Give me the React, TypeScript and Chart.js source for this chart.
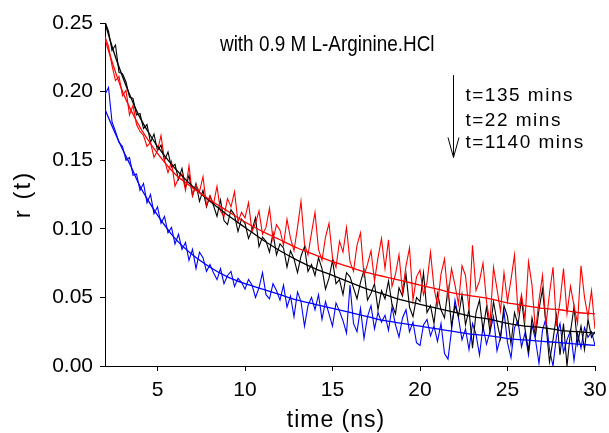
import React, { useEffect, useRef } from "react";
import { Chart, registerables } from "chart.js";

Chart.register(...registerables);

// sampling of the measured decays (ns)
const timeStart = 2;
const timeStep = 0.2;

// measured anisotropy r(t), one value per time channel
const blackData = [
  0.251, 0.244, 0.230, 0.234, 0.214, 0.213, 0.207, 0.196, 0.195, 0.183,
  0.184, 0.173, 0.176, 0.163, 0.169, 0.157, 0.161, 0.150, 0.156, 0.145,
  0.147, 0.136, 0.144, 0.130, 0.139, 0.124, 0.133, 0.120, 0.128, 0.116,
  0.124, 0.117, 0.109, 0.121, 0.106, 0.103, 0.114, 0.110, 0.098, 0.107,
  0.104, 0.093, 0.099, 0.108, 0.087, 0.094, 0.091, 0.083, 0.097, 0.081,
  0.089, 0.086, 0.072, 0.084, 0.078, 0.068, 0.080, 0.087, 0.069, 0.074,
  0.066, 0.079, 0.071, 0.056, 0.064, 0.077, 0.060, 0.063, 0.052, 0.068,
  0.065, 0.057, 0.049, 0.061, 0.070, 0.048, 0.053, 0.060, 0.041, 0.055,
  0.049, 0.062, 0.045, 0.038, 0.057, 0.051, 0.067, 0.043, 0.036, 0.050,
  0.047, 0.068, 0.039, 0.044, 0.031, 0.053, 0.041, 0.035, 0.057, 0.029,
  0.044, 0.036, 0.052, 0.030, 0.041, 0.013, 0.039, 0.048, 0.026, 0.043,
  0.025, 0.047, 0.032, 0.020, 0.044, 0.036, 0.016, 0.039, 0.030, 0.049,
  0.027, 0.011, 0.035, 0.022, 0.041, 0.056, 0.030, 0.003, 0.019, 0.037,
  0.008, 0.031, 0.000, 0.025, 0.043, 0.016, 0.029, 0.012, 0.034, 0.021,
  0.025,
];

const redData = [
  0.240, 0.233, 0.219, 0.208, 0.211, 0.197, 0.201, 0.183, 0.190, 0.176,
  0.171, 0.168, 0.160, 0.163, 0.152, 0.157, 0.168, 0.150, 0.141, 0.149,
  0.131, 0.137, 0.140, 0.128, 0.146, 0.124, 0.132, 0.127, 0.138, 0.117,
  0.124, 0.118, 0.131, 0.113, 0.109, 0.122, 0.116, 0.127, 0.105, 0.112,
  0.108, 0.119, 0.098, 0.104, 0.113, 0.096, 0.101, 0.115, 0.092, 0.103,
  0.099, 0.088, 0.107, 0.093, 0.084, 0.101, 0.120, 0.089, 0.081, 0.097,
  0.112, 0.085, 0.077, 0.094, 0.104, 0.079, 0.072, 0.091, 0.083, 0.101,
  0.076, 0.069, 0.088, 0.097, 0.066, 0.074, 0.084, 0.062, 0.079, 0.093,
  0.071, 0.092, 0.058, 0.067, 0.081, 0.054, 0.073, 0.086, 0.048, 0.065,
  0.070, 0.052, 0.061, 0.083, 0.057, 0.044, 0.067, 0.078, 0.050, 0.071,
  0.059, 0.045, 0.073, 0.066, 0.041, 0.088, 0.055, 0.062, 0.075, 0.047,
  0.031, 0.072, 0.056, 0.040, 0.068, 0.047, 0.063, 0.081, 0.039, 0.052,
  0.034, 0.076, 0.059, 0.025, 0.048, 0.066, 0.030, 0.053, 0.072, 0.029,
  0.047, 0.071, 0.038, 0.058, 0.044, 0.031, 0.073, 0.050, 0.036, 0.055,
  0.027,
];

const blueData = [
  0.198, 0.203, 0.178, 0.171, 0.163, 0.160, 0.150, 0.152, 0.139, 0.140,
  0.128, 0.133, 0.119, 0.125, 0.111, 0.116, 0.104, 0.109, 0.097, 0.101,
  0.089, 0.096, 0.085, 0.090, 0.077, 0.085, 0.071, 0.083, 0.079, 0.069,
  0.074, 0.068, 0.063, 0.071, 0.060, 0.066, 0.069, 0.058, 0.064, 0.061,
  0.056, 0.063, 0.059, 0.050, 0.057, 0.068, 0.052, 0.049, 0.060, 0.055,
  0.048, 0.059, 0.043, 0.051, 0.036, 0.054, 0.047, 0.029, 0.044, 0.050,
  0.041, 0.052, 0.034, 0.047, 0.038, 0.029, 0.046, 0.040, 0.033, 0.024,
  0.059, 0.031, 0.025, 0.042, 0.020, 0.036, 0.044, 0.027, 0.039, 0.032,
  0.037, 0.026, 0.043, 0.030, 0.021, 0.035, 0.041, 0.025, 0.032, 0.017,
  0.015, 0.030, 0.034, 0.022, 0.029, 0.018, 0.031, 0.009, 0.005, 0.026,
  0.048, 0.035, 0.019, 0.027, 0.012, 0.031, 0.023, 0.008, 0.029, 0.016,
  0.025, 0.036, 0.011, 0.021, 0.040, 0.017, 0.006, 0.028, 0.033, 0.014,
  0.024, 0.008, 0.030, 0.019, 0.002, 0.026, 0.035, 0.012, 0.000, 0.022,
  0.031, 0.010, 0.019, 0.026, 0.004, 0.024, 0.013, 0.028, 0.021, 0.025,
  0.015,
];

// fitted curves
const fitTimes = [2, 2.5, 3, 3.5, 4, 4.5, 5, 6, 7, 8, 9, 10, 11, 12, 13, 14, 15, 16, 17, 18, 19, 20, 21, 22, 23, 24, 25, 26, 27, 28, 29, 30];
const blackFit = [0.250, 0.229, 0.211, 0.195, 0.181, 0.170, 0.160, 0.144, 0.131, 0.120, 0.110, 0.101, 0.092, 0.084, 0.077, 0.071, 0.066, 0.061, 0.056, 0.052, 0.048, 0.045, 0.042, 0.039, 0.036, 0.034, 0.031, 0.029, 0.028, 0.026, 0.025, 0.024];
const redFit = [0.238, 0.218, 0.200, 0.186, 0.174, 0.164, 0.155, 0.140, 0.130, 0.121, 0.113, 0.105, 0.098, 0.092, 0.086, 0.081, 0.076, 0.072, 0.068, 0.065, 0.062, 0.059, 0.056, 0.053, 0.051, 0.049, 0.046, 0.044, 0.042, 0.041, 0.039, 0.038];
const blueFit = [0.187, 0.172, 0.158, 0.145, 0.131, 0.120, 0.110, 0.093, 0.081, 0.072, 0.065, 0.060, 0.056, 0.052, 0.048, 0.045, 0.042, 0.039, 0.036, 0.033, 0.031, 0.029, 0.027, 0.025, 0.023, 0.022, 0.020, 0.019, 0.018, 0.017, 0.016, 0.015];

const xTicks = [5, 10, 15, 20, 25, 30];
const yTicks = [0, 0.05, 0.1, 0.15, 0.2, 0.25];

const headline = "with 0.9 M L-Arginine.HCl";
const seriesLabels = ["t=135 mins", "t=22 mins", "t=1140 mins"];
const xTitle = "time (ns)";
const yTitle = "r (t)";

const FONT = '"Liberation Sans", Arial, Helvetica, sans-serif';

// annotation placement in data units
const headlinePos = { x: 14.7, y: 0.234 };
const labelX = 22.6;
const labelYs = [0.197, 0.179, 0.1625];
const arrowPos = { x: 21.9, top: 0.212, bottom: 0.152 };
const xTitleCenter = 15.2;

const toPoints = (values: number[]) =>
  values.map((y, i) => ({ x: Math.round((timeStart + i * timeStep) * 100) / 100, y }));
const toFitPoints = (values: number[]) => values.map((y, i) => ({ x: fitTimes[i], y }));

const annotationPlugin = {
  id: "annotations",
  afterDraw(chart: any) {
    const { ctx, chartArea } = chart;
    const x = chart.scales.x;
    const y = chart.scales.y;
    ctx.save();
    ctx.fillStyle = "#000";
    ctx.strokeStyle = "#000";
    ctx.textBaseline = "middle";

    // headline (slightly condensed like the original)
    ctx.save();
    ctx.font = `22px ${FONT}`;
    ctx.textAlign = "center";
    const hx = x.getPixelForValue(headlinePos.x);
    const hy = y.getPixelForValue(headlinePos.y);
    ctx.translate(hx, hy);
    ctx.scale(0.86, 1);
    ctx.fillText(headline, 0, 0);
    ctx.restore();

    ctx.save();
    ctx.font = `19px ${FONT}`;
    ctx.textAlign = "left";
    (ctx as any).letterSpacing = "1.5px";
    seriesLabels.forEach((t, i) => {
      ctx.fillText(t, x.getPixelForValue(labelX), y.getPixelForValue(labelYs[i]));
    });
    ctx.restore();

    const ax = Math.round(x.getPixelForValue(arrowPos.x)) + 0.5;
    const top = y.getPixelForValue(arrowPos.top);
    const bot = y.getPixelForValue(arrowPos.bottom);
    ctx.lineWidth = 1;
    ctx.beginPath();
    ctx.moveTo(ax, top);
    ctx.lineTo(ax, bot);
    ctx.moveTo(ax - 5.5, bot - 20);
    ctx.lineTo(ax, bot);
    ctx.lineTo(ax + 5.5, bot - 20);
    ctx.stroke();

    ctx.save();
    ctx.font = `23px ${FONT}`;
    ctx.textAlign = "center";
    ctx.textBaseline = "alphabetic";
    (ctx as any).letterSpacing = "1px";
    ctx.fillText(xTitle, x.getPixelForValue(xTitleCenter), chart.height - 6);
    ctx.restore();

    ctx.save();
    ctx.font = `24px ${FONT}`;
    ctx.textAlign = "center";
    ctx.textBaseline = "alphabetic";
    (ctx as any).letterSpacing = "2px";
    ctx.translate(30, (chartArea.top + chartArea.bottom) / 2);
    ctx.rotate(-Math.PI / 2);
    ctx.fillText(yTitle, 0, 0);
    ctx.restore();

    ctx.restore();
  },
};

export default function App() {
  const canvasRef = useRef<HTMLCanvasElement | null>(null);

  useEffect(() => {
    document.body.style.margin = "0";
    const canvas = canvasRef.current;
    if (!canvas) return;
    Chart.defaults.font.family = FONT;

    const dataLine = (label: string, color: string, values: number[]) => ({
      label,
      data: toPoints(values),
      borderColor: color,
      borderWidth: 1.1,
      pointRadius: 0,
      tension: 0,
      fill: false,
    });
    const fitLine = (label: string, color: string, values: number[]) => ({
      label,
      data: toFitPoints(values),
      borderColor: color,
      borderWidth: 1.3,
      pointRadius: 0,
      cubicInterpolationMode: "monotone" as const,
      fill: false,
    });

    const chart = new Chart(canvas, {
      type: "line",
      data: {
        datasets: [
          fitLine("fit 1140", "#0000ff", blueFit),
          fitLine("fit 22", "#ff0000", redFit),
          fitLine("fit 135", "#000000", blackFit),
          dataLine("t=22 mins", "#ff0000", redData),
          dataLine("t=135 mins", "#000000", blackData),
          dataLine("t=1140 mins", "#0000ff", blueData),
        ],
      },
      options: {
        animation: false,
        responsive: true,
        maintainAspectRatio: false,
        layout: { padding: { left: 0, right: 14, top: 23, bottom: 0 } },
        plugins: { legend: { display: false }, tooltip: { enabled: false } },
        scales: {
          x: {
            type: "linear",
            min: 2,
            max: 30,
            afterBuildTicks: (s: any) => {
              s.ticks = xTicks.map((v) => ({ value: v }));
            },
            afterFit: (s: any) => {
              s.height = 67;
              s.paddingLeft = 0;
              s.paddingRight = 0;
            },
            ticks: {
              color: "#000",
              font: { size: 21, family: FONT },
              padding: 7,
              maxRotation: 0,
              autoSkip: false,
            },
            grid: { display: true, drawOnChartArea: false, drawTicks: true, tickLength: 5, color: "#000" },
            border: { display: true, color: "#000", width: 1 },
          },
          y: {
            type: "linear",
            min: 0,
            max: 0.25,
            afterBuildTicks: (s: any) => {
              s.ticks = yTicks.map((v) => ({ value: v }));
            },
            afterFit: (s: any) => {
              s.width = 105;
              s.paddingTop = 0;
              s.paddingBottom = 0;
            },
            ticks: {
              color: "#000",
              font: { size: 21, family: FONT },
              padding: 7,
              callback: (v: any) => Number(v).toFixed(2),
            },
            grid: { display: true, drawOnChartArea: false, drawTicks: true, tickLength: 5, color: "#000" },
            border: { display: true, color: "#000", width: 1 },
          },
        },
      },
      plugins: [annotationPlugin],
    });
    return () => chart.destroy();
  }, []);

  return (
    <div style={{ position: "absolute", left: 0, top: 0, width: 609, height: 433 }}>
      <canvas ref={canvasRef} />
    </div>
  );
}
